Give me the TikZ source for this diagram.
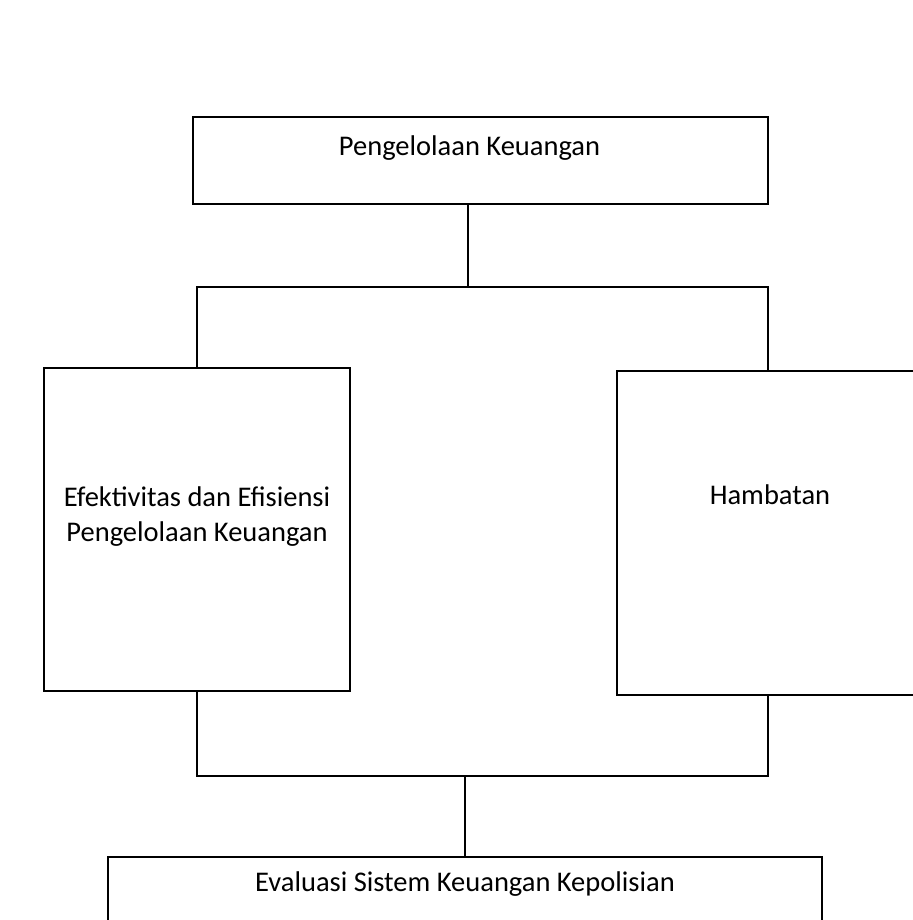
\documentclass[tikz,border=0pt]{standalone}
\usepackage{fontspec}
\setmainfont{Carlito}
\usepackage{tikz}
\usetikzlibrary{positioning}

\begin{document}
\begin{tikzpicture}[
    x=0.5pt, y=0.5pt,
    box/.style={rectangle, draw, line width=1pt, inner sep=0pt},
    lbl/.style={inner sep=0pt, align=center, font=\fontsize{14.25pt}{17.5pt}\selectfont},
    link/.style={line width=1pt}
]
\useasboundingbox (0,0) rectangle (913,920);
\clip (0,0) rectangle (913,920);
% Boxes
\node[box, minimum width=287.5pt, minimum height=43.5pt] (top) at (480.5,759.5) {};
\node[box, minimum width=153pt, minimum height=161.5pt] (left) at (197,390.5) {};
\node[box, minimum width=151pt, minimum height=162pt] (right) at (768,387) {};
\node[box, minimum width=357pt, minimum height=43.5pt] (bottom) at (465,19.5) {};
% Texts
\node[lbl, below=9.5pt of top.north, xshift=-5.5pt] (toptext) {Pengelolaan Keuangan};
\node[lbl, below=59.5pt of left.north] (lefttext) {Efektivitas dan Efisiensi\\Pengelolaan Keuangan};
\node[lbl, below=57pt of right.north, xshift=1pt] (righttext) {Hambatan};
\node[lbl, below=7.5pt of bottom.north] (bottomtext) {Evaluasi Sistem Keuangan Kepolisian};
% Joins
\coordinate (upjoin) at (468,633);
\coordinate (lowjoin) at (465,144);
% Lines
\draw[link] (top.south -| upjoin) -- (upjoin);
\draw[link] (left.north) |- (upjoin) -| (right.north);
\draw[link] (left.south) |- (lowjoin) -| (right.south);
\draw[link] (lowjoin) -- (bottom.north);
\end{tikzpicture}
\end{document}
